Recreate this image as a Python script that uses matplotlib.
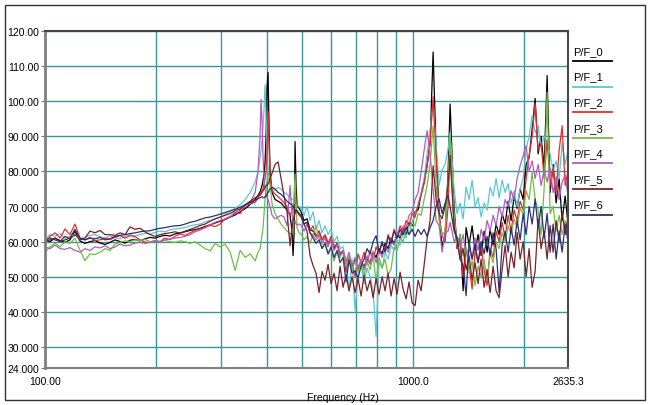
import matplotlib.pyplot as plt
from matplotlib.patches import Rectangle
from matplotlib.lines import Line2D
from matplotlib.ticker import FixedLocator, NullFormatter

plt.rcParams['font.family'] = ['Liberation Sans', 'DejaVu Sans']

# frequency axis (Hz)
freq = [
    100.0, 103.2, 106.5, 109.9, 113.3, 116.9, 120.6, 124.5, 128.4, 132.5,
    136.7, 141.1, 145.6, 150.2, 155.0, 159.9, 165.0, 170.2, 175.6, 181.2,
    187.0, 192.9, 199.1, 205.4, 211.9, 218.7, 225.6, 232.8, 240.2, 247.9,
    255.7, 263.9, 272.3, 280.9, 289.9, 299.1, 308.6, 318.4, 328.5, 339.0,
    349.8, 360.9,
    372.4, 379.1, 383.9, 386.3, 388.8, 391.2, 393.7, 396.1, 398.6, 401.1,
    403.6, 406.2, 408.7, 413.9, 421.7, 429.7, 437.8, 446.1, 454.6, 463.2,
    469.0, 471.9, 474.9, 477.9, 480.9, 483.9, 490.0,
    496.2, 505.6, 515.1, 524.9, 534.8, 545.0, 555.3, 565.8, 576.5, 587.5,
    598.6, 609.9, 621.5, 633.3, 645.3, 657.5, 669.9, 682.6, 695.6, 708.7,
    722.2, 735.9, 749.9, 764.1, 778.6, 793.3, 808.3, 823.7, 839.3, 855.2,
    871.4, 887.9, 904.7, 921.8, 939.3, 957.1, 975.2, 993.8, 1012.6, 1031.8,
    1051.3, 1071.2, 1091.5, 1112.2, 1133.3, 1154.8, 1176.7, 1199.0, 1221.7, 1244.8,
    1260.5, 1292.4, 1316.9, 1341.9, 1367.3, 1393.2, 1419.6, 1446.5, 1473.9, 1501.8,
    1530.3, 1559.3, 1588.8, 1618.9, 1649.6, 1680.9, 1712.7, 1745.2, 1778.3, 1812.0,
    1846.3, 1881.3, 1916.9, 1953.3, 1990.3, 2028.0, 2066.4, 2105.6, 2145.5, 2186.1,
    2227.5, 2269.7, 2312.7, 2356.6, 2401.2, 2446.7, 2493.1, 2540.3, 2588.4, 2635.3,
]

pf0 = [
    60.5, 60.0, 61.0, 60.3, 59.8, 60.5, 63.0, 60.2, 59.5, 60.0,
    60.3, 59.6, 59.2, 59.8, 60.5, 60.0, 59.6, 60.4, 60.6, 60.2,
    60.8, 61.2, 61.0, 61.5, 61.8, 61.6, 62.2, 62.5, 62.8, 63.2,
    63.4, 63.8, 64.3, 64.8, 65.3, 65.8, 66.3, 67.0, 67.6, 68.5,
    69.4, 70.6,
    72.0, 73.2, 74.2, 75.0, 76.0, 77.5, 79.5, 82.5, 90.0, 104.0,
    108.2, 92.0, 80.0, 74.0, 72.0, 71.5, 71.0, 70.0, 69.0, 67.5,
    63.0, 56.0, 62.0, 88.5, 76.0, 70.5, 69.5,
    68.5, 66.0, 66.5, 63.5, 63.0, 61.5, 63.0, 60.5, 61.8, 59.5,
    60.8, 58.0, 59.5, 56.5, 57.5, 54.0, 55.5, 52.5, 55.0, 52.0,
    54.5, 52.8, 55.0, 54.0, 57.0, 55.5, 58.0, 56.5, 59.5, 58.0,
    61.0, 59.5, 62.0, 61.0, 63.8, 62.0, 65.5, 64.5, 68.5, 69.0,
    73.5, 77.0, 81.5, 88.0, 114.0, 86.0, 68.0, 58.5, 62.0, 80.0,
    99.2, 70.0, 58.0, 62.0, 46.0, 64.0, 59.0, 64.5, 57.5, 62.0,
    56.0, 63.0, 57.0, 63.5, 59.0, 65.0, 62.0, 68.0, 65.0, 71.5,
    66.0, 73.0, 69.5, 75.0, 72.0, 82.0, 84.0, 92.0, 100.8, 85.0,
    90.0, 81.0, 107.3, 74.0, 82.0, 71.0, 78.0, 66.0, 73.0, 65.0,
]

pf1 = [
    60.5, 62.0, 61.5, 62.3, 61.0, 61.5, 62.0, 60.8, 61.2, 61.8,
    62.0, 61.4, 61.0, 61.6, 61.2, 60.8, 61.5, 62.0, 61.6, 62.0,
    62.4, 62.2, 62.6, 63.0, 62.8, 63.4, 63.6, 63.8, 64.0, 64.5,
    64.8, 65.0, 65.6, 66.0, 66.5, 67.0, 67.8, 68.5, 69.5, 70.5,
    72.0, 74.0,
    77.0, 80.0, 84.0, 86.0, 89.0, 93.0, 98.0, 104.7, 96.0, 86.0,
    80.0, 77.5, 76.5, 75.5, 74.6, 75.5, 75.0, 74.0, 73.5, 72.5,
    72.0, 72.0, 71.5, 71.0, 70.8, 70.5, 70.0,
    69.5, 67.5, 70.0, 66.0, 68.5, 63.5, 66.0, 62.5, 64.5, 62.0,
    63.5, 60.0, 61.5, 58.0, 58.5, 54.0, 46.0, 55.0, 40.3, 50.5,
    53.5, 48.0, 52.5, 50.0, 46.0, 33.0, 54.0, 52.5, 57.0, 55.0,
    59.0, 57.5, 60.5, 59.0, 62.5, 61.0, 64.5, 65.0, 68.0, 70.3,
    74.0, 78.0, 85.0, 92.0, 99.0, 88.0, 76.0, 80.5, 82.0, 86.4,
    91.2, 74.9, 68.0, 71.0, 66.5, 75.5, 72.0, 77.5, 70.0, 72.5,
    67.0, 71.0, 69.0, 75.5, 73.0, 78.0, 72.5, 77.5, 74.0, 76.5,
    71.0, 74.5, 70.0, 75.0, 78.0, 86.4, 90.0, 95.9, 91.0, 93.0,
    87.0, 90.0, 88.0, 85.0, 80.0, 83.0, 78.0, 88.0, 82.0, 86.0,
]

pf2 = [
    59.5, 61.5, 62.5, 61.0, 63.6, 62.0, 65.0, 61.0, 60.5, 61.2,
    60.3, 60.5, 61.0, 60.6, 61.2, 61.7, 61.0, 61.7, 61.4, 60.5,
    59.8, 59.8, 60.3, 60.0, 61.0, 60.6, 61.5, 62.2, 61.8, 62.5,
    63.2, 63.6, 64.0, 64.6, 64.3, 65.0, 66.5, 67.0, 68.4, 68.0,
    70.3, 70.8,
    71.2, 72.5, 73.5, 74.0, 74.5, 75.0, 76.5, 78.0, 80.0, 85.0,
    97.0, 88.0, 78.0, 74.7, 73.5, 72.8, 72.0, 71.0, 70.0, 67.5,
    69.0, 70.0, 71.0, 72.5, 70.0, 68.5, 67.5,
    67.0, 65.0, 65.5, 63.0, 64.5, 61.5, 63.0, 60.5, 62.0, 59.5,
    61.5, 58.5, 59.5, 56.0, 57.0, 51.3, 55.5, 53.5, 50.0, 56.5,
    54.0, 57.0, 53.5, 57.5, 54.5, 58.5, 56.5, 59.5, 57.5, 62.0,
    60.0, 63.5, 61.5, 64.5, 62.5, 66.0, 64.5, 68.0, 67.0, 70.5,
    73.2, 76.5, 82.0, 88.0, 101.3, 84.0, 67.4, 62.0, 59.8, 70.0,
    86.4, 65.5, 58.0, 61.0, 50.0, 58.0, 53.0, 46.5, 57.5, 54.0,
    59.0, 52.0, 47.5, 58.0, 55.5, 63.0, 60.0, 65.5, 61.0, 67.5,
    63.0, 69.0, 66.0, 71.5, 69.0, 78.0, 84.5, 90.0, 99.4, 86.0,
    88.0, 78.0, 89.0, 76.0, 81.0, 74.0, 86.0, 93.0, 76.0, 80.0,
]

pf3 = [
    57.0, 58.5, 59.5, 58.5, 60.0, 59.5, 61.0, 57.5, 54.6, 56.5,
    56.3, 57.0, 58.0, 57.5, 59.3, 59.8, 60.2, 60.0, 60.5, 60.3,
    60.6, 60.0, 60.2, 60.0, 60.3, 60.0, 59.8, 60.2, 60.0, 59.5,
    60.0, 59.0, 58.0, 57.4, 59.5, 58.5, 59.3, 57.0, 51.8, 57.5,
    55.5, 56.5,
    54.5, 57.0, 58.0, 60.0, 62.0, 64.0, 68.0, 72.0, 75.0, 77.5,
    79.5, 78.5, 76.0, 70.8, 68.0, 66.5, 65.0, 64.0, 63.0, 62.2,
    62.5, 65.0, 72.0, 79.3, 70.0, 64.0, 62.5,
    62.2, 60.5, 61.5, 59.5, 62.0, 64.5, 60.5, 58.3, 59.5, 56.5,
    58.0, 54.5, 57.0, 55.5, 57.5, 53.5, 56.0, 52.0, 54.5, 51.5,
    54.0, 50.5, 54.5, 52.0, 56.0, 48.5, 55.5, 52.5, 55.0, 50.5,
    52.2, 58.5, 57.5, 61.0, 60.0, 63.5, 62.0, 65.5, 64.5, 68.0,
    67.5, 72.0, 76.0, 82.0, 93.0, 76.0, 66.0, 61.7, 63.0, 78.0,
    90.0, 68.0, 59.0, 62.0, 56.0, 58.5, 51.0, 54.5, 47.5, 53.0,
    50.0, 55.0, 49.0, 56.5, 54.0, 60.0, 58.0, 62.5, 60.0, 64.5,
    62.0, 66.5, 64.0, 69.5, 68.0, 74.5, 72.0, 79.7, 72.0, 69.0,
    62.0, 75.0, 102.6, 68.0, 70.0, 63.0, 67.5, 62.0, 66.0, 63.0,
]

pf4 = [
    58.5, 58.0, 59.0, 58.0, 57.8, 58.3, 57.5, 57.0, 58.0, 57.5,
    58.5, 58.2, 58.8, 58.0, 58.5, 59.3, 58.8, 59.0, 59.6, 59.8,
    59.5, 59.8, 60.2, 60.0, 60.5, 60.8, 61.0, 61.2, 61.5, 62.0,
    62.8, 63.3, 64.0, 64.8, 65.5, 66.0, 66.5, 67.2, 68.0, 69.0,
    70.2, 71.2,
    74.0, 80.0, 90.0, 100.5, 94.0, 84.0, 78.0, 75.0, 73.5, 72.5,
    72.0, 71.0, 70.0, 67.5, 66.5, 67.0, 67.5, 67.0, 64.5, 76.0,
    68.0, 66.0, 65.5, 66.0, 65.0, 64.8, 65.0,
    64.6, 63.0, 65.0, 62.5, 61.8, 60.5, 62.0, 59.5, 61.0, 58.5,
    60.8, 57.5, 59.0, 56.0, 57.5, 54.5, 57.0, 53.0, 55.5, 52.5,
    55.0, 52.0, 56.0, 53.5, 57.0, 54.0, 57.5, 55.5, 58.5, 57.0,
    60.0, 59.0, 62.5, 61.5, 64.5, 64.0, 67.5, 68.5, 72.0, 74.0,
    79.7, 86.0, 91.6, 85.0, 74.9, 66.0, 64.6, 57.0, 62.5, 63.0,
    65.5, 60.0, 61.5, 58.5, 62.0, 56.5, 58.0, 55.0, 61.0, 57.5,
    63.5, 60.5, 66.0, 63.0, 67.5, 64.5, 70.0, 67.0, 72.0, 70.0,
    74.5, 72.0, 78.0, 81.6, 84.5, 87.3, 80.0, 83.0, 78.0, 82.0,
    76.0, 80.5, 77.0, 81.0, 74.0, 78.5, 72.0, 77.0, 79.0, 73.0,
]

pf5 = [
    60.5, 61.0, 60.5, 60.0, 61.5, 60.8, 62.0, 60.5, 61.0, 63.0,
    62.5, 63.2, 62.0, 62.0, 61.8, 62.5, 62.0, 64.2, 63.5, 63.8,
    62.8, 62.0, 61.5, 62.0, 62.3, 62.5, 62.8, 62.4, 63.0, 63.5,
    64.0, 64.6, 65.0, 65.8, 66.5, 67.0, 67.5, 68.0, 68.8, 69.3,
    70.5, 71.5,
    72.5, 73.0, 73.2, 73.5, 74.0, 74.5, 75.0, 75.5, 76.0, 76.0,
    76.5, 77.0, 78.0, 79.5, 82.0, 82.7, 78.0, 73.0, 68.3, 58.8,
    64.0, 66.0, 67.0, 68.0, 69.0, 68.5, 68.0,
    67.5, 65.0, 63.0, 56.0, 53.2, 51.0, 45.5, 51.5, 49.0, 53.5,
    48.0, 51.0, 46.0, 53.0, 47.0, 50.5, 46.0, 50.0, 45.5, 49.5,
    44.5, 50.5, 46.0, 49.0, 44.0, 49.5, 45.0, 50.0, 46.0, 51.0,
    44.5, 49.5, 45.0, 51.3, 46.5, 43.7, 48.5, 42.5, 41.8, 49.0,
    46.0, 53.2, 60.8, 66.0, 81.6, 72.0, 68.0, 66.5, 70.0, 76.0,
    84.5, 64.0, 60.8, 55.0, 58.0, 52.0, 56.0, 49.0, 54.0, 48.0,
    55.0, 47.0, 52.0, 45.5, 53.0, 46.0, 44.0, 52.0, 58.9, 50.0,
    57.0, 52.5, 62.6, 55.0, 60.0, 50.0, 58.0, 47.0, 51.5, 66.5,
    58.0, 63.0, 55.0, 64.6, 57.0, 66.0, 60.0, 68.4, 62.0, 67.0,
]

pf6 = [
    60.0, 60.5, 61.0, 60.0, 60.5, 61.0, 63.5, 61.0, 60.5, 61.0,
    60.8, 61.2, 60.5, 60.8, 61.5, 61.8, 62.0, 62.3, 62.5, 62.8,
    63.0, 63.1, 63.5, 63.8, 64.0, 64.3, 64.5, 64.6, 65.0, 65.5,
    65.8, 66.3, 66.8, 67.0, 67.4, 67.8, 68.3, 68.8, 69.2, 69.8,
    70.5, 71.2,
    71.8, 72.2, 72.5, 72.6, 72.8, 72.6, 72.5, 72.8, 73.0, 73.5,
    74.0, 74.5, 75.0, 75.5, 75.0, 74.0, 73.5, 72.6, 71.5, 70.8,
    70.5, 70.0, 69.5, 69.0, 69.0, 68.8, 68.0,
    67.4, 65.0, 65.5, 62.5, 61.0, 59.5, 60.5, 58.0, 59.5, 56.5,
    58.5, 55.5, 57.5, 54.0, 55.5, 48.5, 54.7, 51.0, 51.7, 49.6,
    53.0, 55.0, 58.0, 56.5, 60.0, 61.7, 57.0, 60.0, 57.0, 61.5,
    59.5, 63.0, 61.0, 63.5, 62.0, 64.0, 62.0, 63.5, 61.5, 63.5,
    62.0, 63.5, 61.5, 64.0, 66.0, 70.0, 72.2, 68.0, 71.0, 73.2,
    70.0, 63.0, 60.8, 55.0, 53.2, 44.6, 60.0, 55.0, 59.5, 54.0,
    60.0, 56.5, 61.5, 56.0, 62.5, 58.0, 45.5, 59.0, 63.0, 57.0,
    64.0, 59.0, 66.0, 60.5, 68.0, 62.0, 70.0, 65.0, 72.2, 64.0,
    70.0, 61.0, 68.0, 57.0, 65.0, 55.0, 63.0, 57.0, 65.0, 60.0,
]

names = ['P/F_0', 'P/F_1', 'P/F_2', 'P/F_3', 'P/F_4', 'P/F_5', 'P/F_6']
colors = ['#000000', '#5cc6d4', '#ee2b2b', '#6fbf42', '#b35db8', '#7b2128', '#303070']
series = [pf0, pf1, pf2, pf3, pf4, pf5, pf6]

yticks = [24, 30, 40, 50, 60, 70, 80, 90, 100, 110, 120]
ylabels = ['24.000', '30.000', '40.000', '50.000', '60.000', '70.000',
           '80.000', '90.000', '100.00', '110.00', '120.00']
xticks = [100, 1000, 2635.3]
xlabels = ['100.00', '1000.0', '2635.3']

fig = plt.figure(figsize=(6.48, 4.06), dpi=100)
ax = fig.add_axes([45 / 648, 1 - 369 / 406, 523 / 648, 337 / 406])

for vals, col in zip(series, colors):
    ax.plot(freq, vals, color=col, lw=0.9)

ax.set_xscale('log')
ax.set_xlim(100, 2635.3)
ax.set_ylim(24, 120)

ax.set_yticks(yticks)
ax.set_yticklabels(ylabels, fontsize=7.5)
ax.set_xticks(xticks)
ax.set_xticklabels(xlabels, fontsize=7.5)
ax.xaxis.set_minor_locator(FixedLocator([200, 300, 400, 500, 600, 700, 800, 900, 2000]))
ax.xaxis.set_minor_formatter(NullFormatter())
ax.tick_params(axis='x', which='both', length=0, pad=6)
ax.tick_params(axis='y', length=3, color='#777777', pad=1)
ax.grid(True, which='both', color='#3f9595', lw=1)
ax.set_axisbelow(True)

ax.spines['left'].set_color('#808080')
ax.spines['left'].set_linewidth(2)
ax.spines['bottom'].set_color('#808080')
ax.spines['bottom'].set_linewidth(1.5)
ax.spines['top'].set_color('#3a4a4a')
ax.spines['top'].set_linewidth(1.5)
ax.spines['right'].set_color('#4a4a4a')
ax.spines['right'].set_linewidth(1.5)

fig.text(343 / 648, 1 - 398 / 406, 'Frequency (Hz)', ha='center', va='center', fontsize=7.5)

# legend panel on the right
for i, (name, col) in enumerate(zip(names, colors)):
    ty = 52 + i * 25.6
    fig.text(573 / 648, 1 - ty / 406, name, ha='left', va='center', fontsize=8)
    ly = 1 - (ty + 10) / 406
    fig.add_artist(Line2D([573 / 648, 612 / 648], [ly, ly], color=col, lw=1.3,
                          transform=fig.transFigure))

fig.patches.append(Rectangle((5 / 648, 1 - 401 / 406), 640 / 648, 395 / 406,
                             transform=fig.transFigure, fill=False, ec='#333333', lw=1))

fig.savefig('out.png', dpi=100)
